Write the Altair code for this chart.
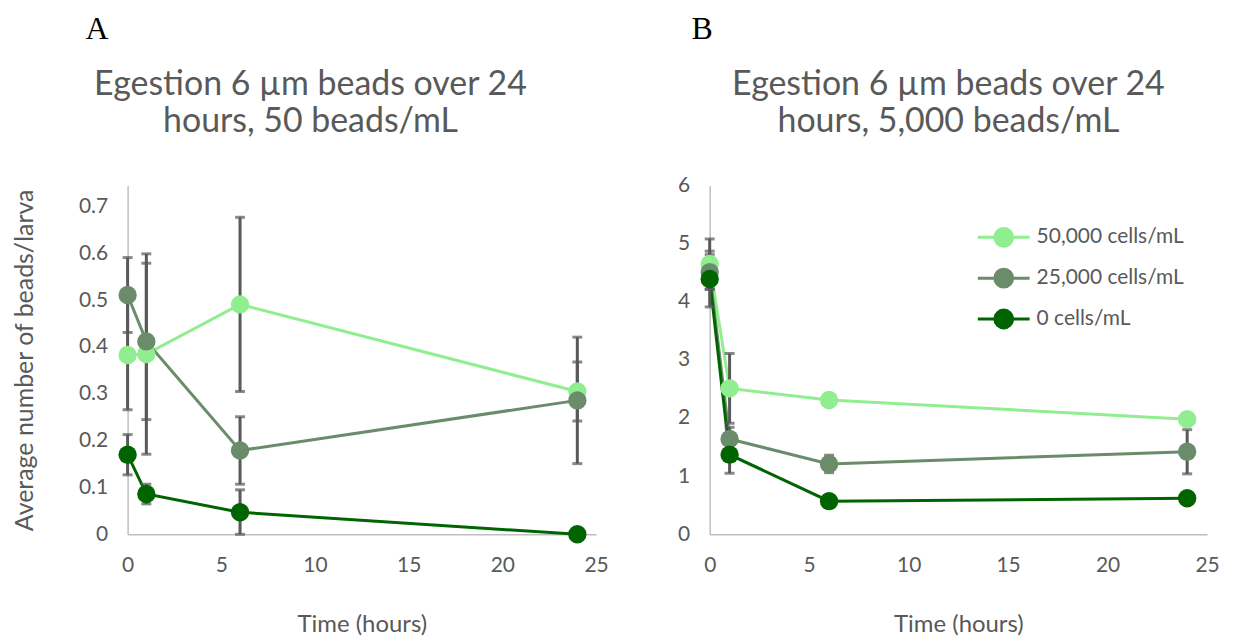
import altair as alt
import pandas as pd

times = [0, 1, 6, 24]
series = ["50,000 cells/mL", "25,000 cells/mL", "0 cells/mL"]
colors = ["#90EE90", "#6A8C6A", "#006400"]

# Panel A: 50 beads/mL
a_50k = [0.383, 0.385, 0.491, 0.305]
a_50k_err = [0.117, 0.214, 0.186, 0.063]
a_25k = [0.511, 0.412, 0.179, 0.286]
a_25k_err = [0.080, 0.167, 0.072, 0.135]
a_0k = [0.170, 0.086, 0.047, 0.0]
a_0k_err = [0.043, 0.021, 0.048, 0.0]

# Panel B: 5,000 beads/mL
b_50k = [4.65, 2.51, 2.31, 1.98]
b_50k_err = [0.43, 0.60, 0.05, 0.05]
b_25k = [4.51, 1.64, 1.21, 1.42]
b_25k_err = [0.30, 0.20, 0.15, 0.38]
b_0k = [4.39, 1.37, 0.57, 0.62]
b_0k_err = [0.48, 0.32, 0.08, 0.06]

title_a = ["Egestion 6 µm beads over 24", "hours, 50 beads/mL"]
title_b = ["Egestion 6 µm beads over 24", "hours, 5,000 beads/mL"]
y_ticks_a = [0, 0.1, 0.2, 0.3, 0.4, 0.5, 0.6, 0.7]
y_ticks_b = [0, 1, 2, 3, 4, 5, 6]
x_ticks = [0, 5, 10, 15, 20, 25]

FONT = "Lato"
GREY = "#595959"


def make_df(vals, errs):
    rows = []
    for s, v, e in zip(series, vals, errs):
        for t, vi, ei in zip(times, v, e):
            rows.append({"time": t, "series": s, "value": vi,
                         "lo": max(vi - ei, 0), "hi": vi + ei})
    return pd.DataFrame(rows)


df_a = make_df([a_50k, a_25k, a_0k], [a_50k_err, a_25k_err, a_0k_err])
df_b = make_df([b_50k, b_25k, b_0k], [b_50k_err, b_25k_err, b_0k_err])

sym_path = "M-1.6,0L1.6,0M-0.55,0A0.55,0.55,0,1,1,0.55,0A0.55,0.55,0,1,1,-0.55,0Z"


def panel(df, title, ydom, yticks, ytitle, show_legend, width, yfmt, title_offset):
    base = alt.Chart(df)
    xenc = alt.X("time:Q", scale=alt.Scale(domain=[0, 25], nice=False),
                 axis=alt.Axis(values=x_ticks, title="Time (hours)", grid=False, ticks=False,
                               domainColor="#BFBFBF", domainWidth=1.5, labelColor=GREY,
                               labelFont=FONT, labelFontSize=21, labelPadding=20,
                               titleFont=FONT, titleFontSize=24, titleColor=GREY,
                               titleFontWeight="normal", titlePadding=38, labelFlush=False))
    yaxis = dict(values=yticks, grid=False, ticks=False, domainColor="#BFBFBF",
                 domainWidth=1.5, labelColor=GREY, labelFont=FONT, labelFontSize=21,
                 labelPadding=20, format=yfmt, labelFlush=False)
    if ytitle:
        yaxis.update(title=ytitle, titleFont=FONT, titleFontSize=25, titleColor=GREY,
                     titleFontWeight="normal", titlePadding=41)
    else:
        yaxis.update(title=None)
    yenc = alt.Y("value:Q", scale=alt.Scale(domain=ydom, nice=False), axis=alt.Axis(**yaxis))

    if show_legend:
        legend = alt.Legend(title=None, orient="none", legendX=277, legendY=34,
                            symbolType=sym_path, symbolSize=1056, symbolStrokeWidth=3,
                            labelFont=FONT, labelFontSize=21, labelColor=GREY,
                            labelOffset=15, rowPadding=8)
    else:
        legend = None
    cscale = alt.Scale(domain=series, range=colors)

    rules = base.mark_rule(color=GREY, strokeWidth=3).encode(
        x="time:Q", y="lo:Q", y2="hi:Q")
    cap_lo = base.mark_tick(color=GREY, orient="horizontal", size=10, thickness=3).encode(
        x="time:Q", y="lo:Q")
    cap_hi = base.mark_tick(color=GREY, orient="horizontal", size=10, thickness=3).encode(
        x="time:Q", y="hi:Q")
    lines = base.mark_line(strokeWidth=3).encode(
        x=xenc, y=yenc, color=alt.Color("series:N", scale=cscale, legend=legend, sort=series),
        detail="series:N")
    points = base.mark_point(filled=True, opacity=1, size=340, shape="circle").encode(
        x="time:Q", y="value:Q",
        color=alt.Color("series:N", scale=cscale, legend=legend, sort=series))

    return alt.layer(lines, rules, cap_lo, cap_hi, points).properties(
        width=width, height=350,
        title=alt.TitleParams(text=title, font=FONT, fontSize=34, color=GREY,
                              fontWeight="normal", lineHeight=37, offset=title_offset,
                              anchor="middle", frame="bounds"))


pa = panel(df_a, title_a, [0, 0.745], y_ticks_a, "Average number of beads/larva",
           False, 470, ".1~f", 47)
pb = panel(df_b, title_b, [0, 6], y_ticks_b, None, True, 499, "d", 36)

wrap_a = alt.hconcat(pa, title=alt.TitleParams(
    "A", anchor="start", frame="bounds", dx=73, font="Liberation Serif", fontSize=32,
    color="black", fontWeight="normal", offset=22))
wrap_b = alt.hconcat(pb, title=alt.TitleParams(
    "B", anchor="start", frame="bounds", dx=14, font="Liberation Serif", fontSize=32,
    color="black", fontWeight="normal", offset=22))

chart = alt.hconcat(wrap_a, wrap_b, spacing=68).resolve_scale(
    color="independent").configure_view(stroke=None).properties(
    padding={"left": 4, "top": 4, "right": 5, "bottom": 0})

chart.save("out.html", embed_options={"renderer": "svg", "actions": False})
